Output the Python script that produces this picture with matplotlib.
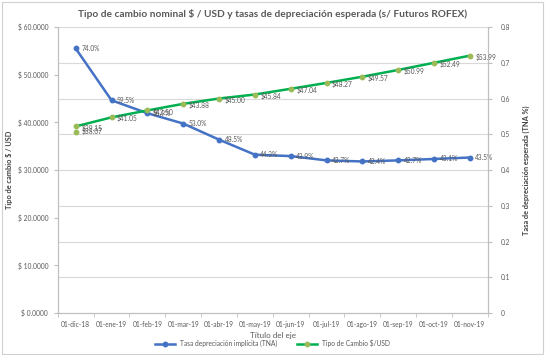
import numpy as np
import matplotlib as mpl
import matplotlib.pyplot as plt
from matplotlib.ticker import FuncFormatter

categories = ['01-dic-18', '01-ene-19', '01-feb-19', '01-mar-19', '01-abr-19',
              '01-may-19', '01-jun-19', '01-jul-19', '01-ago-19', '01-sep-19',
              '01-oct-19', '01-nov-19']
tipo_cambio = [39.15, 41.05, 42.50, 43.88, 45.00, 45.84, 47.04, 48.27,
               49.57, 50.99, 52.49, 53.99]
spot_value = 38.07
tasa_tna = [0.740, 0.595, 0.559, 0.530, 0.485, 0.443, 0.439, 0.427,
            0.424, 0.427, 0.431, 0.435]

mpl.rcParams['font.family'] = ['Lato', 'DejaVu Sans']
text_color = '#595959'
grid_color = '#d9d9d9'
blue = '#4472C4'
green_line = '#00B050'
green_marker = '#9BBB59'

fig = plt.figure(figsize=(5.45, 3.55), dpi=100)
fig.patch.set_facecolor('white')
border = plt.Rectangle((0.003, 0.004), 0.994, 0.99, transform=fig.transFigure,
                       fill=False, edgecolor='#d0d0d0', lw=0.8)
fig.patches.append(border)

ax_left = fig.add_axes([0.106, 0.118, 0.789, 0.806])
ax_right = ax_left.twinx()
x = np.arange(len(categories))

# right axis (rate)
ax_right.set_ylim(0, 0.8)
ax_right.set_yticks(np.arange(0, 0.81, 0.1))
ax_right.yaxis.set_major_formatter(
    FuncFormatter(lambda v, p: '0' if abs(v) < 1e-9 else f'{v:.1f}'))

ax_left.set_ylim(0, 60)
ax_left.set_yticks(np.arange(0, 61, 10))
ax_left.yaxis.set_major_formatter(FuncFormatter(lambda v, p: f'$ {v:.4f}'))
ax_left.set_xlim(-0.5, len(categories) - 0.5)

# gridlines follow the secondary axis
for g in np.arange(0.1, 0.81, 0.1):
    ax_right.axhline(g, color=grid_color, lw=0.8, zorder=0)

blue_line, = ax_right.plot(x, tasa_tna, color=blue, lw=1.8, marker='o',
                           ms=3.2, mfc=blue, mec=blue, zorder=3,
                           label='Tasa depreciación implícita (TNA)')
for xi, v in zip(x, tasa_tna):
    ax_right.annotate(f'{v * 100:.1f}%', (xi, v), xytext=(4, 0),
                      textcoords='offset points', va='center', ha='left',
                      fontsize=4.8, color=text_color, zorder=4)

ax_left.set_zorder(ax_right.get_zorder() + 1)
ax_left.patch.set_visible(False)
green, = ax_left.plot(x, tipo_cambio, color=green_line, lw=1.8, marker='o',
                      ms=3.2, mfc=green_marker, mec=green_marker, zorder=3,
                      label='Tipo de Cambio $/USD')
ax_left.plot([x[0]], [spot_value], ls='none', marker='o', ms=3.2,
             mfc=green_marker, mec=green_marker, zorder=3)
for xi, v in zip(x, tipo_cambio):
    ax_left.annotate(f'${v:.2f}', (xi, v), xytext=(4, -1),
                     textcoords='offset points', va='center', ha='left',
                     fontsize=4.8, color=text_color, zorder=4)
ax_left.annotate(f'${spot_value:.2f}', (x[0], spot_value), xytext=(4, 0),
                 textcoords='offset points', va='center', ha='left',
                 fontsize=4.8, color=text_color, zorder=4)

# category axis: labels at centres, ticks between categories
ax_left.set_xticks(x)
ax_left.set_xticklabels(categories)
ax_left.set_xticks(np.arange(-0.5, len(categories), 1), minor=True)
ax_left.tick_params(axis='x', which='major', length=0, pad=6,
                    labelsize=4.8, labelcolor=text_color)
ax_left.tick_params(axis='x', which='minor', length=3, color='#bfbfbf')
ax_left.tick_params(axis='y', length=3, color='#bfbfbf', labelsize=4.8,
                    labelcolor=text_color, pad=4)
ax_right.tick_params(axis='y', length=3, color='#bfbfbf', labelsize=4.8,
                     labelcolor=text_color, pad=6)

for a in (ax_left, ax_right):
    a.spines['top'].set_visible(False)
    for s in ('left', 'right', 'bottom'):
        a.spines[s].set_color('#bfbfbf')
        a.spines[s].set_linewidth(0.8)

ax_left.set_xlabel('Título del eje', fontsize=5.8, color=text_color)
ax_left.xaxis.set_label_coords(0.5, -0.065)
ax_left.set_ylabel('Tipo de cambio $ / USD', fontsize=5.3, color='#404040',
                   fontweight='bold')
ax_left.yaxis.set_label_coords(-0.105, 0.5)
ax_right.set_ylabel('Tasa de depreciación esperada (TNA %)', fontsize=5.3,
                    color='#404040', fontweight='bold')
ax_right.yaxis.set_label_coords(1.081, 0.5)

fig.suptitle('Tipo de cambio nominal $ / USD y tasas de depreciación esperada '
             '(s/ Futuros ROFEX)', fontsize=7.3, color=text_color,
             fontweight='bold', y=0.975)

handles = [blue_line, green]
fig.legend(handles, [h.get_label() for h in handles], loc='center',
           bbox_to_anchor=(0.5, 0.032), ncol=2, frameon=False, fontsize=4.8,
           labelcolor=text_color, handlelength=3, columnspacing=3)

plt.savefig('out.png', dpi=100)
plt.close(fig)
